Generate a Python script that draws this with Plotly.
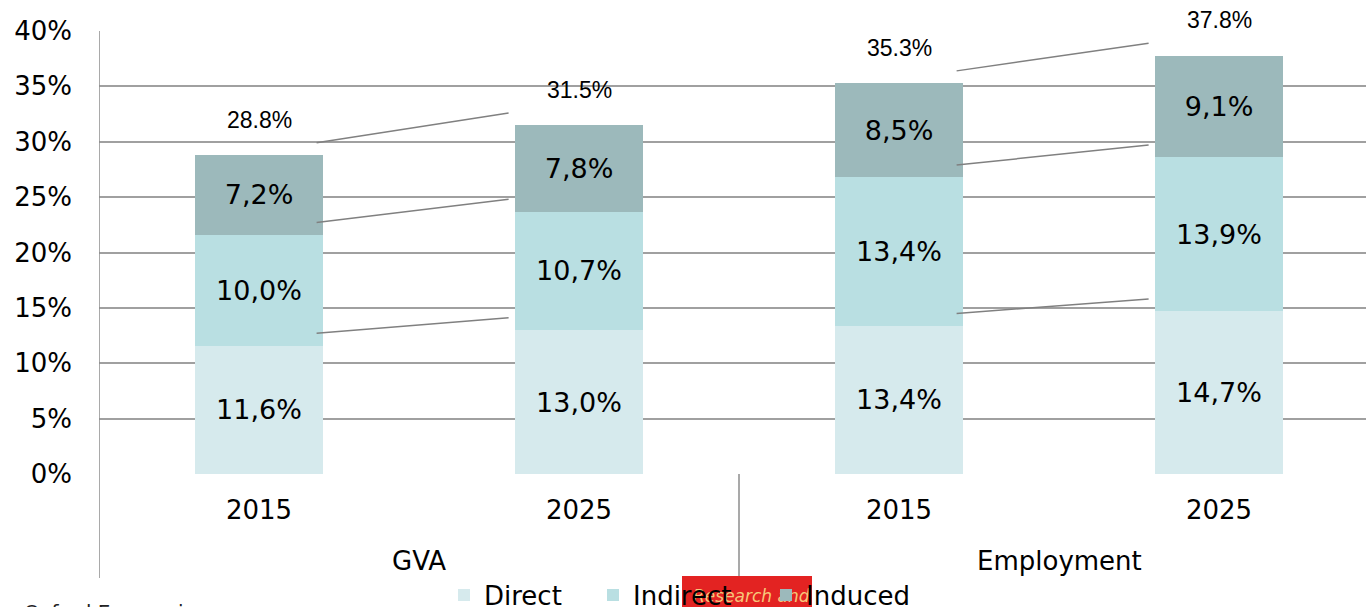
import plotly.graph_objects as go

# ---- data ----
groups = ["GVA", "Employment"]
years = ["2015", "2025", "2015", "2025"]
direct = [11.6, 13.0, 13.4, 14.7]
indirect = [10.0, 10.7, 13.4, 13.9]
induced = [7.2, 7.8, 8.5, 9.1]
totals = [28.8, 31.5, 35.3, 37.8]
series_names = ["Direct", "Indirect", "Induced"]
y_ticks = [0, 5, 10, 15, 20, 25, 30, 35, 40]
source_text = "Oxford Economics"
overlay_text = "Research and"

# ---- style ----
colors = ["#D6EAED", "#B9DFE2", "#9CB9BB"]
FONT = "DejaVu Sans"
GRID = "#A0A0A0"
W, H = 1366, 607
ML, MT, MB = 99, 31, 133
PLOT_H = H - MT - MB
PLOT_W = W - ML
CAT_PX = 320
Y0PIX = MT + PLOT_H


def px(xpix):
    return (xpix - ML) / PLOT_W


def py(ypix):
    return (Y0PIX - ypix) / PLOT_H


pos = list(range(len(years)))


def fmt_comma(v):
    return f"{v:.1f}".replace(".", ",") + "%"


fig = go.Figure()
series = [direct, indirect, induced]
legend_ids = ["legend", "legend2", "legend3"]
for name, vals, col, lg in zip(series_names, series, colors, legend_ids):
    fig.add_trace(go.Bar(
        x=pos, y=vals, name=name, marker=dict(color=col, line=dict(width=0)),
        width=0.4, text=[fmt_comma(v) for v in vals], textposition="inside",
        insidetextanchor="middle", textangle=0,
        insidetextfont=dict(family=FONT, size=27, color="black"),
        legend=lg, hoverinfo="skip",
    ))

# series (connector) lines between the bars of each group
cum1 = direct
cum2 = [a + b for a, b in zip(direct, indirect)]
cum3 = totals
lx, ly = [], []
dx, dy = -0.02, 1.1
for a, b in [(0, 1), (2, 3)]:
    for lev in (cum1, cum2, cum3):
        lx += [a + 0.2 + dx, b - 0.2 + dx, None]
        ly += [lev[a] + dy, lev[b] + dy, None]
fig.add_trace(go.Scatter(x=lx, y=ly, mode="lines", line=dict(color="#808080", width=1.5),
                         showlegend=False, hoverinfo="skip"))

annotations = []
for i, t in enumerate(totals):
    annotations.append(dict(x=i, y=t, xref="x", yref="y", yshift=35, text=f"{t:.1f}%",
                            showarrow=False, font=dict(family="Liberation Sans", size=23, color="black")))
for gi, g in enumerate(groups):
    annotations.append(dict(x=gi * 2 + 0.5, y=py(561), xref="x", yref="paper", text=g,
                            showarrow=False, yanchor="middle",
                            font=dict(family=FONT, size=26, color="black")))
annotations.append(dict(x=px(22), y=py(612), xref="paper", yref="paper", xanchor="left",
                        yanchor="middle", text=source_text, showarrow=False,
                        font=dict(family=FONT, size=20, color="#222222")))

shapes = []
# y-axis line (extended down through the category labels) and group divider
shapes.append(dict(type="line", xref="x", yref="paper", x0=-0.5, x1=-0.5, y0=1, y1=py(578),
                   line=dict(color="#8C8C8C", width=1.5)))
shapes.append(dict(type="line", xref="x", yref="paper", x0=1.5, x1=1.5, y0=0, y1=py(578),
                   line=dict(color="#8C8C8C", width=1.5)))
shapes.append(dict(type="rect", xref="paper", yref="paper", x0=px(682), x1=px(812),
                   y0=py(576), y1=py(614), fillcolor="#E32322", line=dict(width=0),
                   layer="above",
                   label=dict(text=overlay_text, textposition="middle left", padding=8,
                              font=dict(family=FONT, size=17, color="#F7C77A", style="italic"))))

leg_common = dict(orientation="h", xanchor="left", yanchor="middle", y=py(595),
                  bgcolor="rgba(0,0,0,0)", font=dict(family=FONT, size=26, color="black"))

fig.update_layout(
    width=W, height=H,
    margin=dict(l=ML, r=0, t=MT, b=MB, autoexpand=False),
    barmode="stack",
    plot_bgcolor="white", paper_bgcolor="white",
    font=dict(family=FONT, size=26, color="black"),
    xaxis=dict(range=[-0.5, -0.5 + PLOT_W / CAT_PX], tickvals=pos, ticktext=years,
               showgrid=False, zeroline=False, showline=False, ticks="",
               ticklabelstandoff=18, tickfont=dict(family=FONT, size=26, color="black"),
               fixedrange=True),
    yaxis=dict(range=[0, 40], tickvals=y_ticks, ticktext=[f"{v}%" for v in y_ticks],
               showgrid=True, gridcolor=GRID, gridwidth=2, zeroline=False,
               showline=False, ticks="",
               ticklabelstandoff=26, tickfont=dict(family=FONT, size=26, color="black"),
               fixedrange=True),
    legend=dict(x=px(444), **leg_common),
    legend2=dict(x=px(593), **leg_common),
    legend3=dict(x=px(766), **leg_common),
    annotations=annotations,
    shapes=shapes,
)

fig.write_html("out.html", config={"displayModeBar": False},
               post_script="document.body.style.margin='0';")
